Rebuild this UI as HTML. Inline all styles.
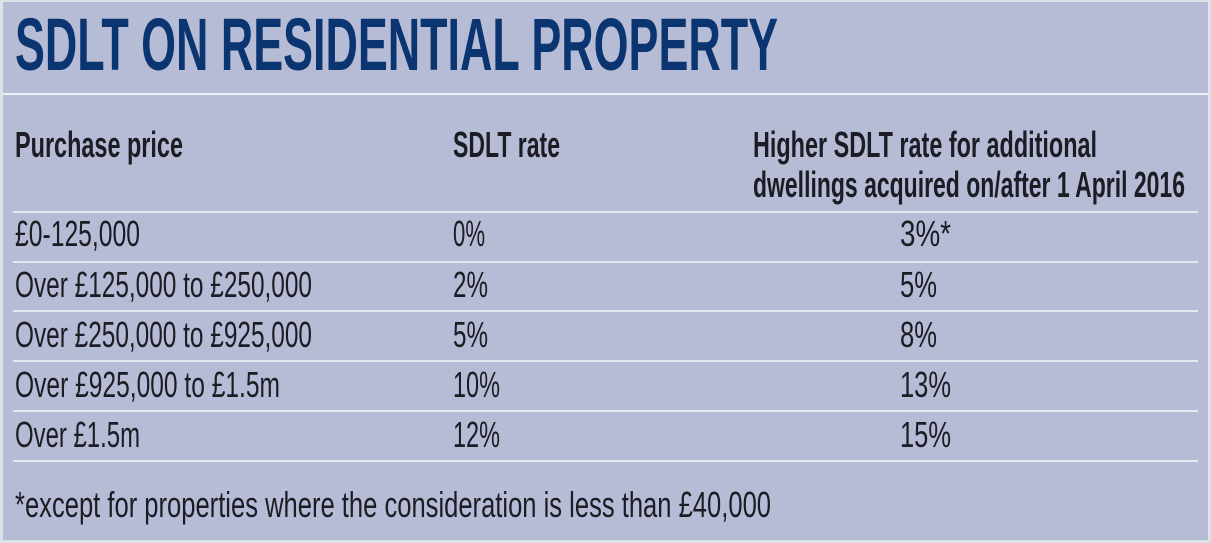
<!DOCTYPE html>
<html><head><meta charset="utf-8"><style>
html,body{margin:0;padding:0;background:#fff;}
svg{display:block;}
text{font-family:"Liberation Sans",sans-serif;}
</style></head><body>
<svg width="1211" height="543" viewBox="0 0 1211 543">
<rect x="0" y="0" width="1211" height="543" fill="#dfe1e8"/>
<rect x="3" y="2" width="1205" height="538" fill="#b7bcd6"/>
<text x="15" y="70" font-size="74" font-weight="bold" fill="#0b3570" textLength="763" lengthAdjust="spacingAndGlyphs">SDLT ON RESIDENTIAL PROPERTY</text>
<rect x="3" y="93" width="1205" height="2" fill="#eef0f5"/>
<text x="15" y="157" font-size="36" font-weight="bold" fill="#1c1c24" textLength="168" lengthAdjust="spacingAndGlyphs">Purchase price</text>
<text x="453" y="157" font-size="36" font-weight="bold" fill="#1c1c24" textLength="107" lengthAdjust="spacingAndGlyphs">SDLT rate</text>
<text x="753" y="157" font-size="36" font-weight="bold" fill="#1c1c24" textLength="344" lengthAdjust="spacingAndGlyphs">Higher SDLT rate for additional</text>
<text x="753" y="197" font-size="36" font-weight="bold" fill="#1c1c24" textLength="432" lengthAdjust="spacingAndGlyphs">dwellings acquired on/after 1 April 2016</text>
<g fill="#e6e8f0">
<rect x="13" y="211" width="1185" height="2"/>
<rect x="13" y="261" width="1185" height="2"/>
<rect x="13" y="310" width="1185" height="2"/>
<rect x="13" y="360" width="1185" height="2"/>
<rect x="13" y="410" width="1185" height="2"/>
<rect x="13" y="460" width="1185" height="2"/>
</g>
<g font-size="36" fill="#1c1c24">
<text x="15" y="246" textLength="125" lengthAdjust="spacingAndGlyphs">£0-125,000</text>
<text x="453" y="246" textLength="32" lengthAdjust="spacingAndGlyphs">0%</text>
<text x="900" y="246" textLength="51" lengthAdjust="spacingAndGlyphs">3%*</text>
<text x="15" y="297" textLength="297" lengthAdjust="spacingAndGlyphs">Over £125,000 to £250,000</text>
<text x="453" y="297" textLength="35" lengthAdjust="spacingAndGlyphs">2%</text>
<text x="900" y="297" textLength="37" lengthAdjust="spacingAndGlyphs">5%</text>
<text x="15" y="347" textLength="297" lengthAdjust="spacingAndGlyphs">Over £250,000 to £925,000</text>
<text x="453" y="347" textLength="35" lengthAdjust="spacingAndGlyphs">5%</text>
<text x="900" y="347" textLength="37" lengthAdjust="spacingAndGlyphs">8%</text>
<text x="15" y="397" textLength="265" lengthAdjust="spacingAndGlyphs">Over £925,000 to £1.5m</text>
<text x="453" y="397" textLength="47" lengthAdjust="spacingAndGlyphs">10%</text>
<text x="900" y="397" textLength="51" lengthAdjust="spacingAndGlyphs">13%</text>
<text x="15" y="447" textLength="125" lengthAdjust="spacingAndGlyphs">Over £1.5m</text>
<text x="453" y="447" textLength="47" lengthAdjust="spacingAndGlyphs">12%</text>
<text x="900" y="447" textLength="51" lengthAdjust="spacingAndGlyphs">15%</text>
<text x="15" y="517" textLength="756" lengthAdjust="spacingAndGlyphs">*except for properties where the consideration is less than £40,000</text>
</g>
</svg>
</body></html>
